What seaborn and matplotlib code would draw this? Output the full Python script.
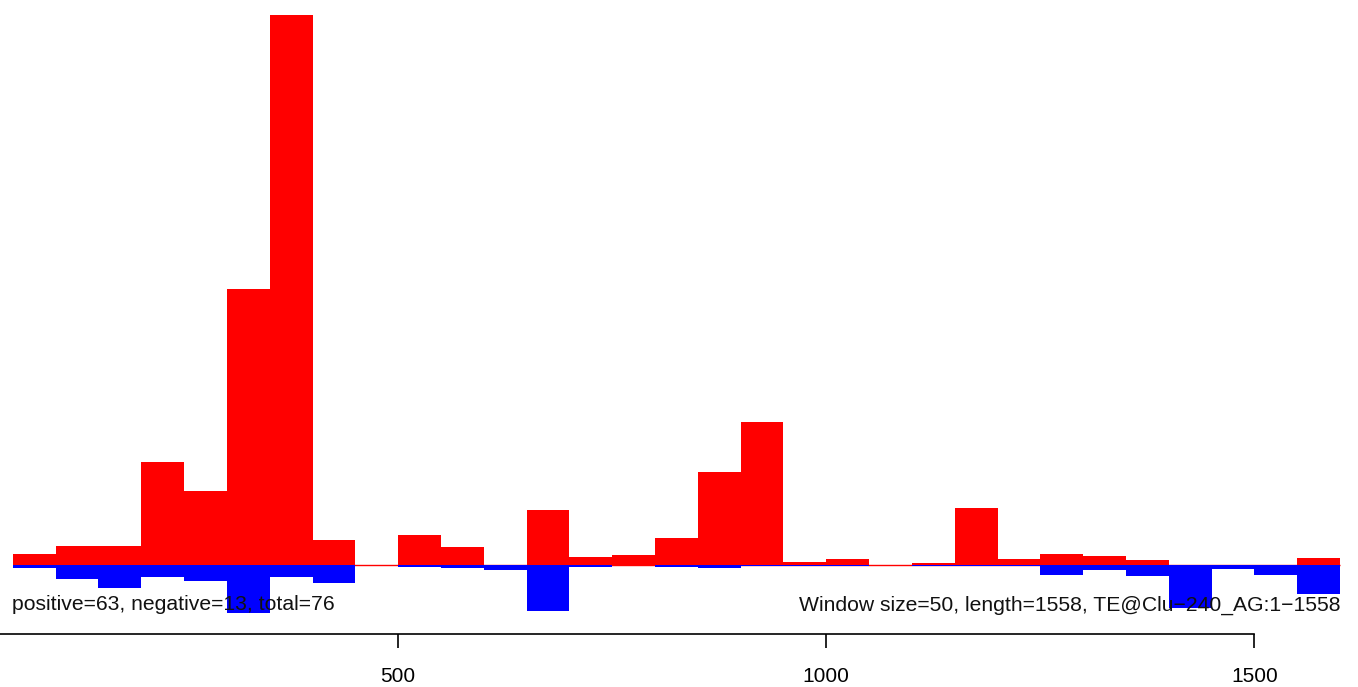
import numpy as np
import pandas as pd
import matplotlib
matplotlib.use('Agg')
import matplotlib.pyplot as plt
import seaborn as sns

# ── data: window start positions and read coverage per 50bp window ──
window_start = [50, 100, 150, 200, 250, 300, 350, 400, 450, 500,
                550, 600, 650, 700, 750, 800, 850, 900, 950, 1000,
                1050, 1100, 1150, 1200, 1250, 1300, 1350, 1400, 1450, 1500,
                1550]
positive = [1.1, 1.9, 1.9, 10.3, 7.4, 27.6, 55.0, 2.5, 0.0, 3.0,
            1.8, 0.0, 5.5, 0.8, 1.0, 2.7, 9.3, 14.3, 0.3, 0.6,
            0.0, 0.2, 5.7, 0.6, 1.1, 0.9, 0.5, 0.0, 0.0, 0.0,
            0.7]
negative = [0.3, 1.4, 2.27, 1.17, 1.57, 4.77, 1.17, 1.77, 0.0, 0.17,
            0.27, 0.5, 4.57, 0.17, 0.0, 0.17, 0.27, 0.1, 0.1, 0.1,
            0.0, 0.13, 0.1, 0.1, 0.97, 0.5, 1.1, 4.27, 0.43, 1.0,
            2.87]
window = 50
xticks = [500, 1000, 1500]
left_text = 'positive=63, negative=13, total=76'
right_text = 'Window size=50, length=1558, TE@Clu\u2212240_AG:1\u22121558'

df = pd.DataFrame({
    'center': [s + window / 2 for s in window_start],
    'pos': positive,
    'neg': [-v for v in negative],
})

sns.set_style('white')
plt.rcParams['font.family'] = ['Liberation Sans', 'DejaVu Sans']

fig = plt.figure(figsize=(13.58, 6.87), dpi=100)
ax = fig.add_axes([0, 0, 1, 1])

ax.hlines(0, window_start[0], window_start[-1] + window, color='red', lw=1, zorder=1)
sns.barplot(data=df, x='center', y='pos', native_scale=True, width=1,
            color='#FF0000', saturation=1, linewidth=0, errorbar=None,
            ax=ax, zorder=2)
sns.barplot(data=df, x='center', y='neg', native_scale=True, width=1,
            color='#0000FF', saturation=1, linewidth=0, errorbar=None,
            ax=ax, zorder=2)

ax.set_xlim(35.0, 1621.0)
ax.set_ylim(-12.2, 56.5)

for s in ['top', 'right', 'left']:
    ax.spines[s].set_visible(False)
ax.spines['bottom'].set_position(('data', -6.9))
ax.spines['bottom'].set_bounds(0, 1500)
ax.spines['bottom'].set_color('black')
ax.spines['bottom'].set_linewidth(1.2)

ax.set_xticks(xticks)
ax.set_xticklabels([str(t) for t in xticks])
ax.tick_params(axis='x', direction='out', length=10, width=1.2,
               labelsize=15, pad=14, colors='black', bottom=True)
ax.set_yticks([])
ax.set_xlabel('')
ax.set_ylabel('')

ax.text(49, -4.0, left_text, fontsize=15.2, ha='left', va='center',
        color='#111111', zorder=5)
ax.text(1600, -4.0, right_text, fontsize=15.2, ha='right', va='center',
        color='#111111', zorder=5)

fig.savefig('out.png', dpi=100, facecolor='white')
